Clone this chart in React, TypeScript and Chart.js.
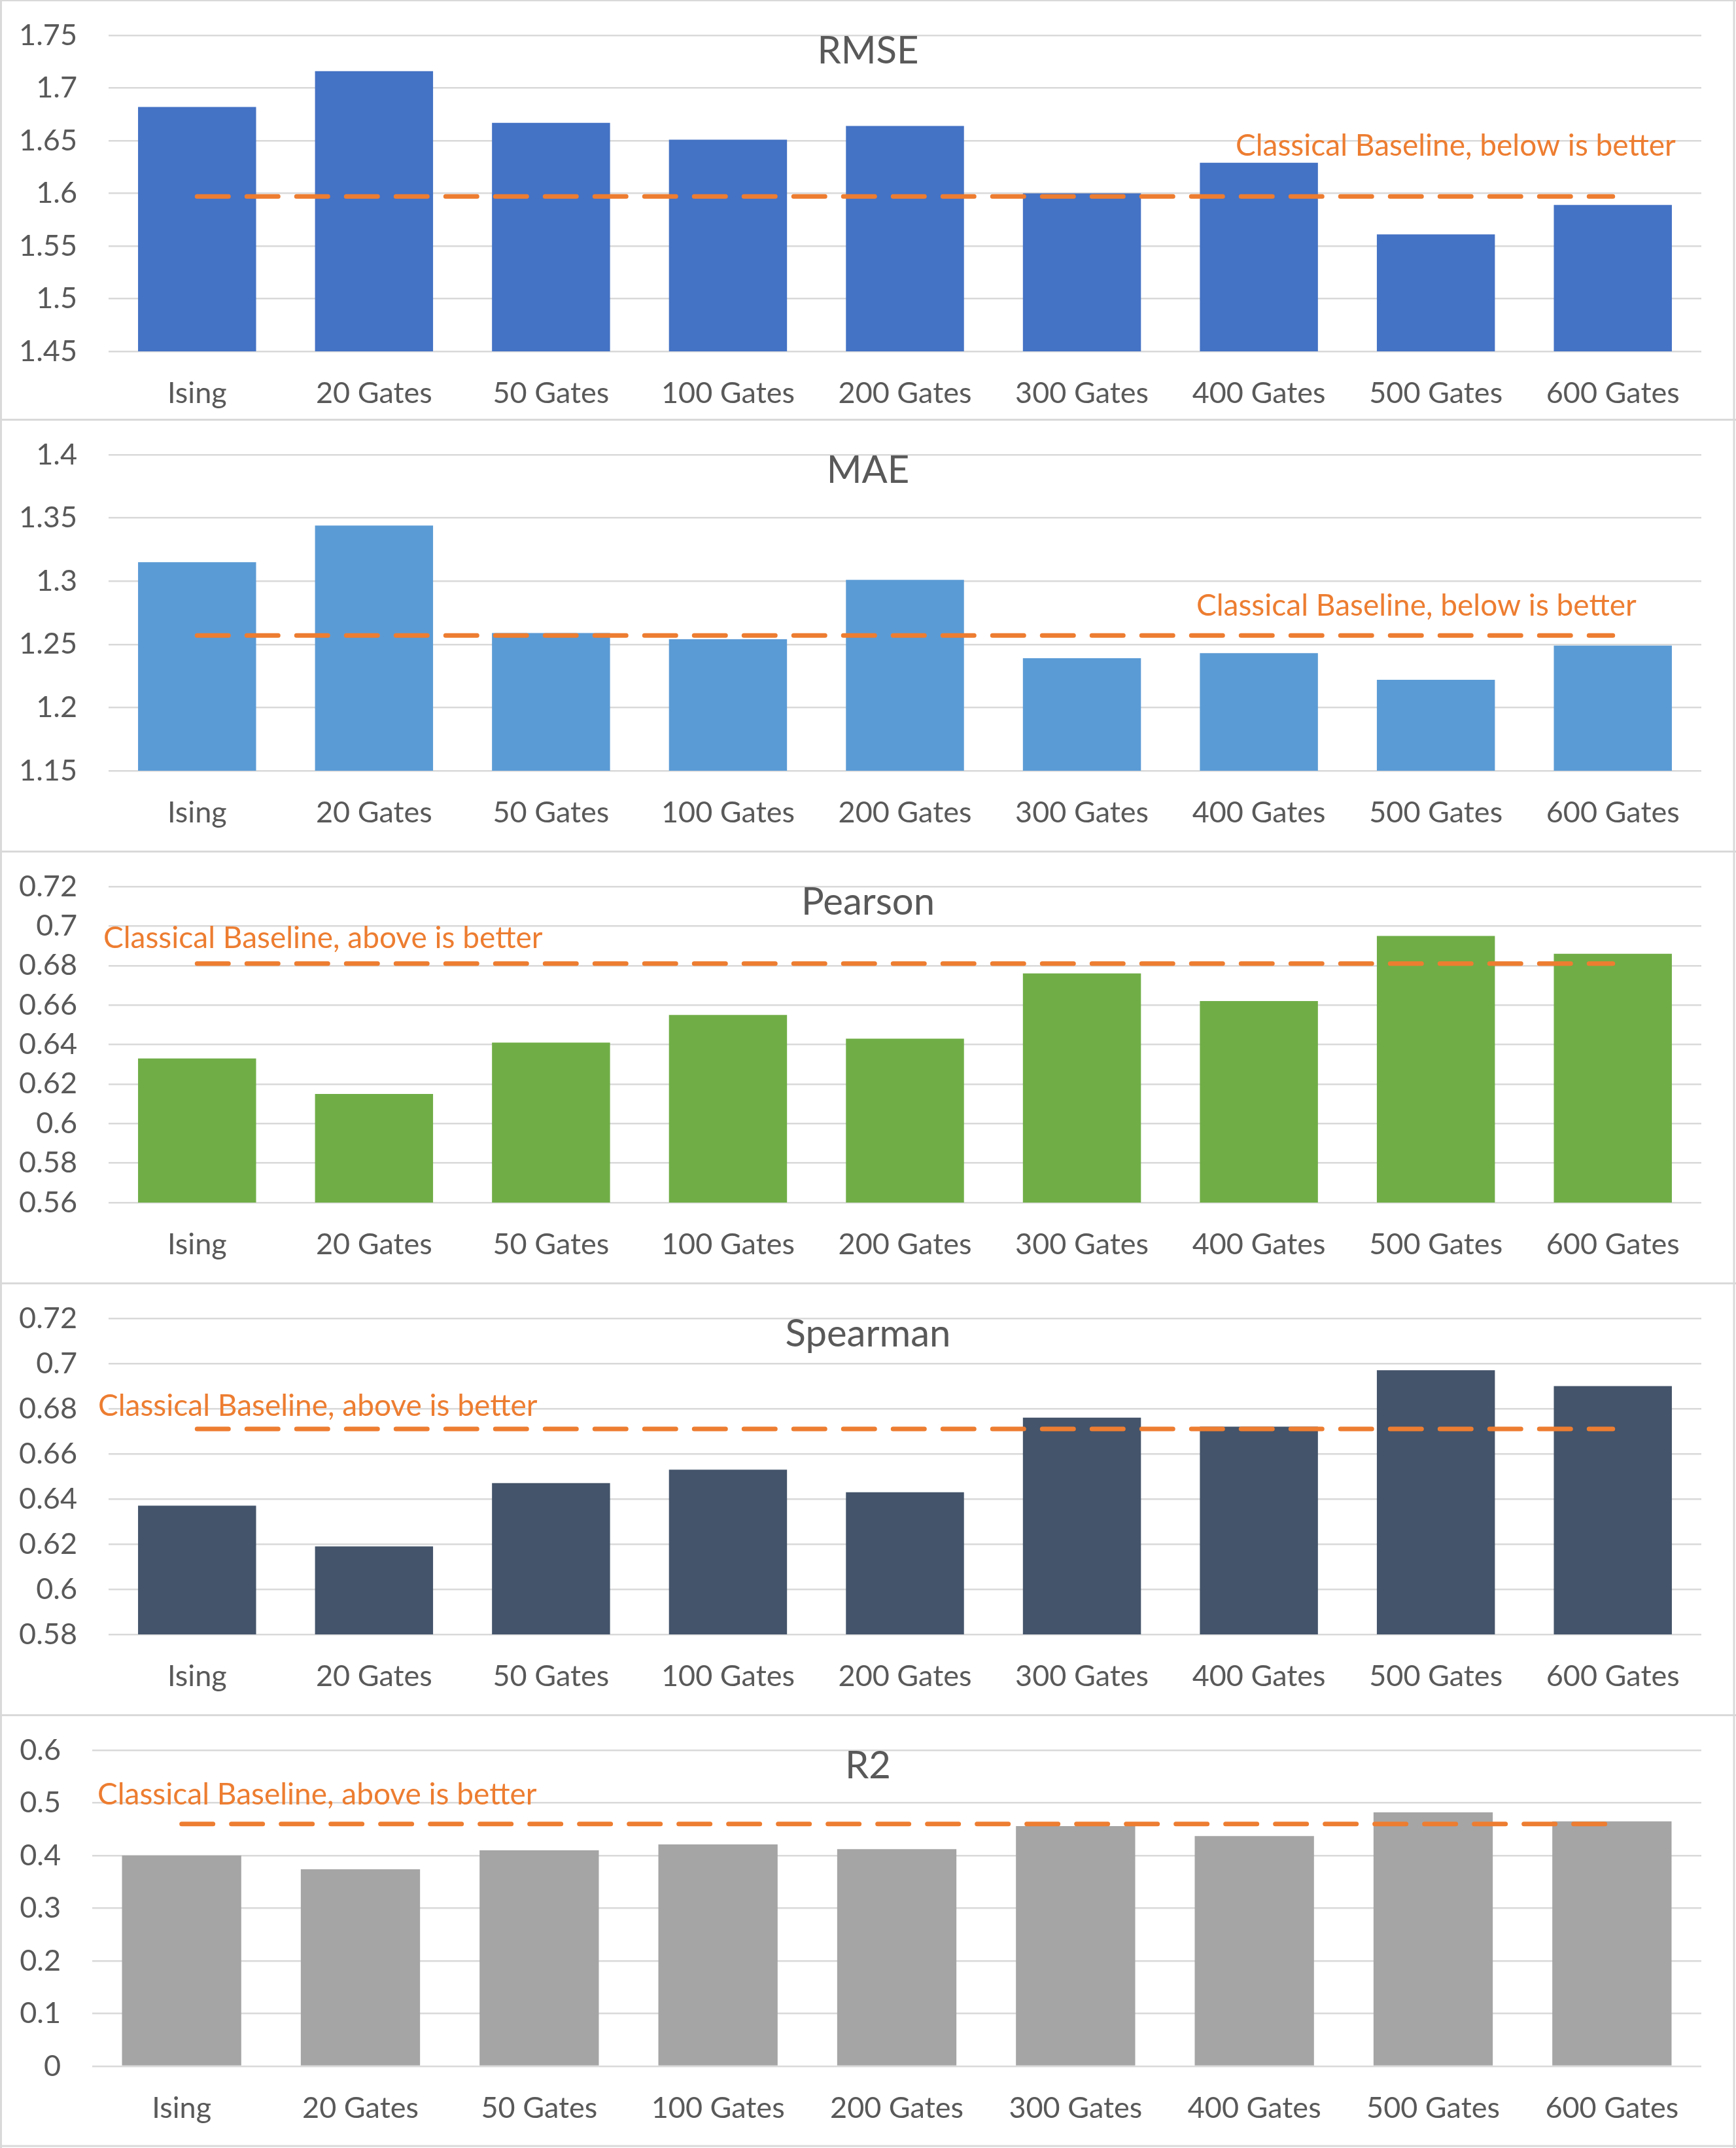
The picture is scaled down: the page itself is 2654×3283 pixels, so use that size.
import React, { useEffect, useRef } from 'react';
import { Chart, registerables } from 'chart.js';

Chart.register(...registerables);

// ---------------- data ----------------
const categories = ['Ising', '20 Gates', '50 Gates', '100 Gates', '200 Gates', '300 Gates', '400 Gates', '500 Gates', '600 Gates'];

const rmseValues = [1.682, 1.716, 1.667, 1.651, 1.664, 1.600, 1.629, 1.561, 1.589];
const rmseBaseline = [1.597, 1.597, 1.597, 1.597, 1.597, 1.597, 1.597, 1.597, 1.597];

const maeValues = [1.315, 1.344, 1.259, 1.254, 1.301, 1.239, 1.243, 1.222, 1.249];
const maeBaseline = [1.257, 1.257, 1.257, 1.257, 1.257, 1.257, 1.257, 1.257, 1.257];

const pearsonValues = [0.633, 0.615, 0.641, 0.655, 0.643, 0.676, 0.662, 0.695, 0.686];
const pearsonBaseline = [0.681, 0.681, 0.681, 0.681, 0.681, 0.681, 0.681, 0.681, 0.681];

const spearmanValues = [0.637, 0.619, 0.647, 0.653, 0.643, 0.676, 0.672, 0.697, 0.690];
const spearmanBaseline = [0.671, 0.671, 0.671, 0.671, 0.671, 0.671, 0.671, 0.671, 0.671];

const r2Values = [0.400, 0.374, 0.410, 0.421, 0.412, 0.456, 0.437, 0.482, 0.465];
const r2Baseline = [0.460, 0.460, 0.460, 0.460, 0.460, 0.460, 0.460, 0.460, 0.460];

const panelTitles = ['RMSE', 'MAE', 'Pearson', 'Spearman', 'R2'];
const annotationTexts = [
  'Classical Baseline, below is better',
  'Classical Baseline, below is better',
  'Classical Baseline, above is better',
  'Classical Baseline, above is better',
  'Classical Baseline, above is better',
];
const yMins = [1.45, 1.15, 0.56, 0.58, 0];
const yMaxs = [1.75, 1.4, 0.72, 0.72, 0.6];
const ySteps = [0.05, 0.05, 0.02, 0.02, 0.1];

const seriesValues = [rmseValues, maeValues, pearsonValues, spearmanValues, r2Values];
const seriesBaselines = [rmseBaseline, maeBaseline, pearsonBaseline, spearmanBaseline, r2Baseline];

// ---------------- styles / layout ----------------
const W = 2654;
const barColors = ['#4472C4', '#5B9BD5', '#70AD47', '#44546A', '#A5A5A5'];
const baselineColor = '#ED7D31';
const gridColor = '#D9D9D9';
const textColor = '#595959';
const FONT = 'Lato, "Open Sans", sans-serif';

const panelTops = [-1, 640, 1300, 1960, 2620];
const panelHeights = [641, 660, 660, 660, 663];
const plotLefts = [166, 166, 166, 166, 141];
const plotRight = 2601;
const plotTop = 55;
const plotBottom = 538;
const annotationX = [1889, 1829, 158, 150, 149];
const annotationY = [239, 301, 149, 204, 138];
const titleBaselineY = 98;

function makeChart(canvas: HTMLCanvasElement, i: number) {
  const H = panelHeights[i];
  const isLast = i === panelTitles.length - 1;
  const overlay = {
    id: 'overlay' + i,
    afterDraw(chart: any) {
      const ctx = chart.ctx as CanvasRenderingContext2D;
      ctx.save();
      // title
      ctx.fillStyle = textColor;
      ctx.font = '58px ' + FONT;
      ctx.textAlign = 'center';
      ctx.textBaseline = 'alphabetic';
      ctx.fillText(panelTitles[i], W / 2, titleBaselineY);
      // annotation
      ctx.fillStyle = baselineColor;
      ctx.font = '46px ' + FONT;
      ctx.textAlign = 'left';
      ctx.fillText(annotationTexts[i], annotationX[i], annotationY[i]);
      // panel border
      ctx.strokeStyle = gridColor;
      ctx.lineWidth = 3;
      ctx.beginPath();
      ctx.moveTo(0, 1.5);
      ctx.lineTo(W, 1.5);
      ctx.moveTo(1.5, 0);
      ctx.lineTo(1.5, H);
      ctx.moveTo(2651, 0);
      ctx.lineTo(2651, H);
      if (isLast) {
        ctx.moveTo(0, 660);
        ctx.lineTo(W, 660);
      }
      ctx.stroke();
      ctx.restore();
    },
  };

  return new Chart(canvas, {
    type: 'bar',
    data: {
      labels: categories,
      datasets: [
        {
          type: 'line',
          data: seriesBaselines[i],
          borderColor: baselineColor,
          borderWidth: 7,
          borderDash: [48, 28],
          borderCapStyle: 'round',
          pointRadius: 0,
          fill: false,
          order: 0,
        } as any,
        {
          type: 'bar',
          data: seriesValues[i],
          backgroundColor: barColors[i],
          borderWidth: 0,
          categoryPercentage: 1,
          barPercentage: 0.667,
          order: 1,
        } as any,
      ],
    },
    options: {
      responsive: false,
      maintainAspectRatio: false,
      animation: false,
      devicePixelRatio: 1,
      layout: { padding: { top: plotTop, right: W - plotRight, left: 0, bottom: 0 } },
      plugins: {
        legend: { display: false },
        tooltip: { enabled: false },
        title: { display: false },
      },
      scales: {
        x: {
          type: 'category',
          offset: true,
          grid: { display: false, drawTicks: false },
          border: { display: false },
          ticks: {
            color: textColor,
            font: { family: FONT, size: 45 },
            padding: 37,
            maxRotation: 0,
            minRotation: 0,
            autoSkip: false,
          },
          afterFit: (s: any) => {
            s.height = H - plotBottom;
            s.paddingLeft = 0;
            s.paddingRight = 0;
          },
        },
        y: {
          min: yMins[i],
          max: yMaxs[i],
          grid: { color: gridColor, lineWidth: 2.5, drawTicks: false },
          border: { display: false },
          ticks: {
            stepSize: ySteps[i],
            color: textColor,
            font: { family: FONT, size: 45 },
            padding: 48,
            callback: (v: any) => String(parseFloat(Number(v).toFixed(4))),
          },
          afterFit: (s: any) => {
            s.width = plotLefts[i];
            s.paddingTop = 0;
            s.paddingBottom = 0;
          },
        },
      },
    } as any,
    plugins: [overlay],
  });
}

export default function App() {
  const refs = useRef<(HTMLCanvasElement | null)[]>([]);

  useEffect(() => {
    const charts: Chart[] = [];
    refs.current.forEach((c, i) => {
      if (c) charts.push(makeChart(c, i));
    });
    return () => {
      charts.forEach((c) => c.destroy());
    };
  }, []);

  return (
    <div style={{ position: 'absolute', left: 0, top: 0, width: W, height: 3283, background: '#ffffff', overflow: 'hidden' }}>
      {panelTitles.map((t, i) => (
        <canvas
          key={t}
          ref={(el) => {
            refs.current[i] = el;
          }}
          width={W}
          height={panelHeights[i]}
          style={{ position: 'absolute', left: 0, top: panelTops[i], width: W, height: panelHeights[i], display: 'block' }}
        />
      ))}
    </div>
  );
}
